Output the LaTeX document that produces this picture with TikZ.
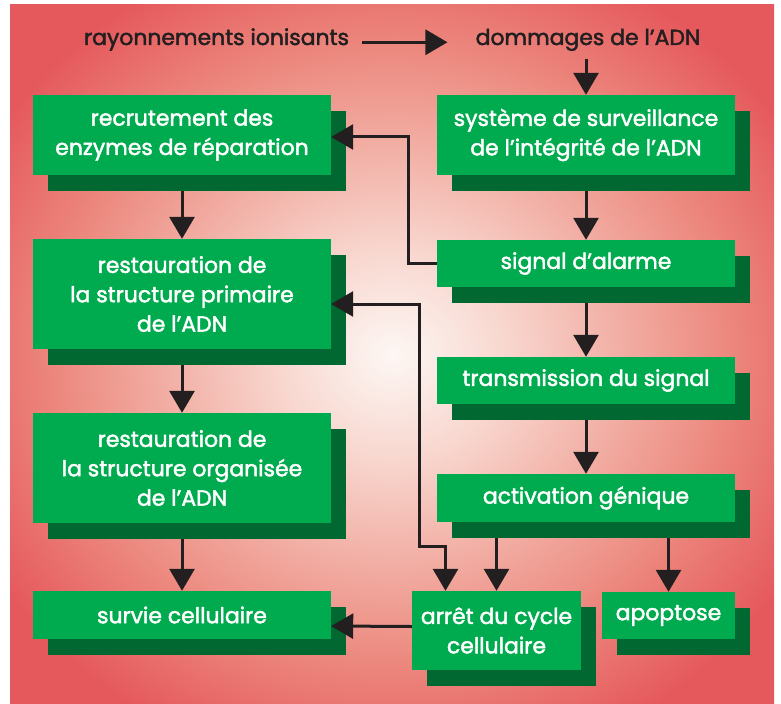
\documentclass[tikz,border=0pt]{standalone}
\usepackage{fontspec}
\setmainfont{Poppins}[FakeBold=2]
\usetikzlibrary{arrows.meta,shadows}

\definecolor{boxgreen}{RGB}{0,170,79}
\definecolor{shadowgreen}{RGB}{0,104,48}
\definecolor{inkdark}{RGB}{35,31,32}
\definecolor{bgred}{RGB}{229,88,92}
\definecolor{bgA}{RGB}{253,247,244}
\definecolor{bgB}{RGB}{248,215,207}
\definecolor{bgC}{RGB}{242,175,165}
\definecolor{bgD}{RGB}{236,135,125}
\pgfdeclareradialshading{bgglow}{\pgfpoint{0bp}{0bp}}{color(0bp)=(bgA); color(7.4bp)=(bgB); color(14.8bp)=(bgC); color(22.2bp)=(bgD); color(30.5bp)=(bgred); color(50bp)=(bgred)}

\begin{document}
\begin{tikzpicture}[x=1bp, y=-1bp,
  box/.style={fill=boxgreen, text=white, align=center, inner sep=0pt,
    minimum width=298bp, font=\fontsize{22}{29.5}\selectfont,
    general shadow={fill=shadowgreen, shadow xshift=15bp, shadow yshift=-16bp}},
  toptext/.style={text=inkdark, inner sep=0pt, anchor=base, font=\fontsize{22}{29.5}\selectfont},
  arr/.style={draw=inkdark, line width=3bp, -{Triangle[width=25bp,length=22bp]}},
  fromshadow/.style={shorten <=16bp}]
\useasboundingbox (0,0) rectangle (781,704);
\shade[shading=bgglow] (10,5) rectangle (774,704);

% top line
\node[toptext] (rayons) at (216.5,45) {rayonnements ionisants};
\node[toptext] (dommages) at (588,45) {dommages de l’ADN};

% left column
\node[box, minimum height=80bp] (recrut) at (182,135) {recrutement des\\enzymes de réparation};
\node[box, minimum height=110bp] (primaire) at (182,294) {restauration de\\la structure primaire\\de l’ADN};
\node[box, minimum height=110bp] (organise) at (182,468) {restauration de\\la structure organisée\\de l’ADN};
\node[box, minimum height=48bp] (survie) at (182,615) {survie cellulaire};

% right column
\node[box, minimum height=80bp] (surveil) at (586,135) {système de surveillance\\de l’intégrité de l’ADN};
\node[box, minimum height=47bp] (alarme) at (586,263.5) {signal d’alarme};
\node[box, minimum height=47bp] (transmis) at (586,380.5) {transmission du signal};
\node[box, minimum height=48bp] (activ) at (586,498) {activation génique};
\node[box, minimum width=169bp, minimum height=79bp] (arret) at (496.5,630.5) {arrêt du cycle\\cellulaire};
\node[box, minimum width=133bp, minimum height=47bp] (apopt) at (668.5,615.5) {apoptose};

% arrows
\draw[arr] ([xshift=13bp]rayons.mid east) -- ([xshift=-28bp]dommages.mid west);
\draw[arr, shorten <=8bp] (surveil.north |- dommages.south) -- (surveil.north);
\draw[arr, fromshadow] (surveil.south) -- (alarme.north);
\draw[arr, fromshadow] (alarme.south) -- (transmis.north);
\draw[arr, fromshadow] (transmis.south) -- (activ.north);
\draw[arr, fromshadow] (arret.north |- activ.south) -- (arret.north);
\draw[arr, fromshadow] (apopt.north |- activ.south) -- (apopt.north);
\draw[arr, fromshadow] (recrut.south) -- (primaire.north);
\draw[arr, fromshadow] (primaire.south) -- (organise.north);
\draw[arr, fromshadow] (organise.south) -- (survie.north);
\draw[arr] (alarme.west) -- ++(-28,0) |- ([yshift=-2bp]recrut.east);
\draw[arr, {Triangle[width=25bp,length=22bp]}-{Triangle[width=25bp,length=22bp]}]
  ([yshift=-10bp]primaire.east) -| (419,546) -| ([xshift=-51bp]arret.north);
\draw[arr] ([yshift=4bp]arret.west) -- ([yshift=-11bp]survie.east);
\end{tikzpicture}
\end{document}
